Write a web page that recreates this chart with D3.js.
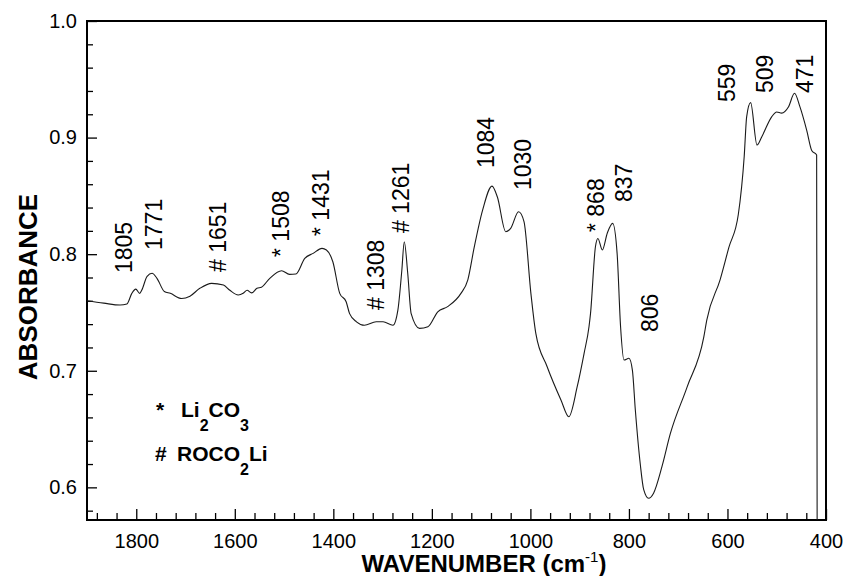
<!DOCTYPE html>
<html>
<head>
<meta charset="utf-8">
<script src="https://cdn.jsdelivr.net/npm/d3@7"></script>
<style>
  body { margin: 0; background: #fff; }
  svg { display: block; font-family: "Liberation Sans", Arial, Helvetica, sans-serif; }
</style>
</head>
<body>
<div id="chart"></div>
<script>
// spectrum: wavenumber (cm-1) and absorbance
var wavenumbers = [1900, 1866, 1833, 1819, 1809, 1801, 1793, 1789, 1778, 1768, 1758, 1743, 1731, 1708, 1691,
    1671, 1647, 1623, 1610, 1593, 1583, 1575, 1566, 1555, 1546, 1529, 1505, 1489, 1476, 1458, 1441, 1423,
    1414, 1401, 1387, 1374, 1367, 1353, 1337, 1313, 1299, 1279, 1269, 1261, 1256, 1249, 1242, 1225, 1208,
    1188, 1168, 1141, 1127, 1114, 1097, 1078, 1067, 1050, 1040, 1024, 1013, 999, 989, 966, 938, 922, 905,
    891, 881, 878, 868, 863, 854, 844, 833, 824, 817, 810, 800, 793, 787, 777, 770, 760, 750, 733, 716,
    682, 648, 642, 615, 597, 578, 566, 561, 553, 540, 530, 510, 500, 490, 476, 464, 453, 439, 429, 419, 418];
var absorbance = [0.760, 0.758, 0.7564, 0.7573, 0.7664, 0.770, 0.7664, 0.769, 0.781, 0.7836, 0.7793, 0.768, 0.7664, 0.762, 0.764,
    0.7707, 0.775, 0.7735, 0.769, 0.765, 0.7664, 0.769, 0.7668, 0.7707, 0.7716, 0.7793, 0.7858, 0.7827, 0.783, 0.7964, 0.8007, 0.805,
    0.8036, 0.7935, 0.7664, 0.7592, 0.749, 0.742, 0.739, 0.742, 0.742, 0.739, 0.752, 0.786, 0.8107, 0.7836, 0.749, 0.7364, 0.7378,
    0.7506, 0.755, 0.7664, 0.778, 0.806, 0.8378, 0.8584, 0.849, 0.8193, 0.8222, 0.8364, 0.828, 0.7664, 0.732, 0.7035, 0.675, 0.6606, 0.6863,
    0.715, 0.738, 0.749, 0.8064, 0.8135, 0.8036, 0.818, 0.8264, 0.8007, 0.738, 0.7092, 0.7107, 0.7006, 0.6663, 0.62, 0.598, 0.5906, 0.595, 0.6177, 0.646,
    0.686, 0.729, 0.7435, 0.778, 0.806, 0.834, 0.884, 0.918, 0.930, 0.8936, 0.901, 0.918, 0.922, 0.921, 0.9265, 0.938, 0.9265, 0.906, 0.889, 0.885, 0.572];

// peak labels, anchored in data units (start of rotated text)
var peakLabels = ["1805", "1771", "# 1651", "* 1508", "* 1431", "# 1308", "# 1261", "1084", "1030", "* 868", "837", "806", "559", "509", "471"];
var peakLabelWn = [1809, 1748, 1617, 1491, 1408, 1297, 1246, 1074, 999, 851, 793, 742, 584, 507, 426];
var peakLabelAbs = [0.7838, 0.8036, 0.7847, 0.7976, 0.8156, 0.7521, 0.8181, 0.8739, 0.855, 0.819, 0.8447, 0.7332, 0.9305, 0.9382, 0.9382];

var xMajorTicks = [1800, 1600, 1400, 1200, 1000, 800, 600, 400];
var yMajorTicks = [0.6, 0.7, 0.8, 0.9, 1.0];

DrawChart = function () {
    let width = 844, height = 576;
    let m = { left: 87, right: 826, top: 21, bottom: 520 };

    let svg = d3.select("#chart").append("svg")
        .attr("width", width)
        .attr("height", height);

    let x = d3.scaleLinear().domain([1900, 400]).range([m.left, m.right]);
    let y = d3.scaleLinear().domain([0.572, 1.0]).range([m.bottom, m.top]);

    // minor ticks every 40 cm-1 and every 0.02
    let xMinor = d3.range(1880, 400, -40).filter(function (d) { return d % 200 != 0; });
    let yMinor = d3.range(0.58, 1.0, 0.02).filter(function (d) { return Math.abs(d * 10 - Math.round(d * 10)) > 0.01; });

    svg.append("g")
        .attr("transform", "translate(0," + m.bottom + ")")
        .call(d3.axisBottom(x).tickValues(xMajorTicks).tickSize(-11).tickPadding(14).tickFormat(d3.format("d")));
    svg.append("g")
        .attr("transform", "translate(0," + m.bottom + ")")
        .call(d3.axisBottom(x).tickValues(xMinor).tickSize(-7).tickFormat(""));

    svg.append("g")
        .attr("transform", "translate(" + m.left + ",0)")
        .call(d3.axisLeft(y).tickValues(yMajorTicks).tickSize(-10).tickPadding(10).tickFormat(d3.format(".1f")));
    svg.append("g")
        .attr("transform", "translate(" + m.left + ",0)")
        .call(d3.axisLeft(y).tickValues(yMinor).tickSize(-6).tickFormat(""));

    svg.selectAll(".domain").remove();
    svg.selectAll(".tick line").attr("stroke", "#000").attr("stroke-width", 1.3);
    svg.selectAll(".tick text")
        .attr("fill", "#000")
        .style("font-size", "20px")
        .style("font-family", "'Liberation Sans', Arial, sans-serif");

    // frame
    svg.append("rect")
        .attr("x", m.left)
        .attr("y", m.top)
        .attr("width", m.right - m.left)
        .attr("height", m.bottom - m.top)
        .attr("fill", "none")
        .attr("stroke", "#000")
        .attr("stroke-width", 2);

    // spectrum
    let points = wavenumbers.map(function (d, i) { return [d, absorbance[i]]; });
    let line = d3.line()
        .x(function (d) { return x(d[0]); })
        .y(function (d) { return y(d[1]); })
        .curve(d3.curveMonotoneX);

    svg.append("path")
        .datum(points)
        .attr("d", line)
        .attr("fill", "none")
        .attr("stroke", "#1a1a1a")
        .attr("stroke-width", 1.1);

    // peak labels
    svg.selectAll(".peak")
        .data(peakLabels)
        .enter()
        .append("text")
        .attr("class", "peak")
        .attr("transform", function (d, i) {
            return "translate(" + x(peakLabelWn[i]) + "," + y(peakLabelAbs[i]) + ") rotate(-90)";
        })
        .style("font-size", "23px")
        .attr("fill", "#000")
        .text(function (d) { return d; });

    // legend
    let legend = svg.append("g")
        .style("font-size", "21px")
        .style("font-weight", "bold");

    let l1 = legend.append("text").attr("y", 417);
    l1.append("tspan").attr("x", 156).text("*");
    l1.append("tspan").attr("x", 181).text("Li");
    l1.append("tspan").attr("dy", 14).style("font-size", "16px").text("2");
    l1.append("tspan").attr("dy", -14).text("CO");
    l1.append("tspan").attr("dy", 14).style("font-size", "16px").text("3");

    let l2 = legend.append("text").attr("y", 461);
    l2.append("tspan").attr("x", 155).text("#");
    l2.append("tspan").attr("x", 177).text("ROCO");
    l2.append("tspan").attr("dy", 14).style("font-size", "16px").text("2");
    l2.append("tspan").attr("dy", -14).text("Li");

    // axis titles
    let xTitle = svg.append("text")
        .attr("x", 484)
        .attr("y", 572)
        .attr("text-anchor", "middle")
        .style("font-size", "24px")
        .style("font-weight", "bold");
    xTitle.append("tspan").text("WAVENUMBER (cm");
    xTitle.append("tspan").attr("dy", -10).style("font-size", "15px").style("font-weight", "normal").text("-1");
    xTitle.append("tspan").attr("dy", 10).text(")");

    svg.append("text")
        .attr("transform", "translate(37,287) rotate(-90)")
        .attr("text-anchor", "middle")
        .style("font-size", "26px")
        .style("font-weight", "bold")
        .text("ABSORBANCE");
}

DrawChart();
</script>
</body>
</html>
